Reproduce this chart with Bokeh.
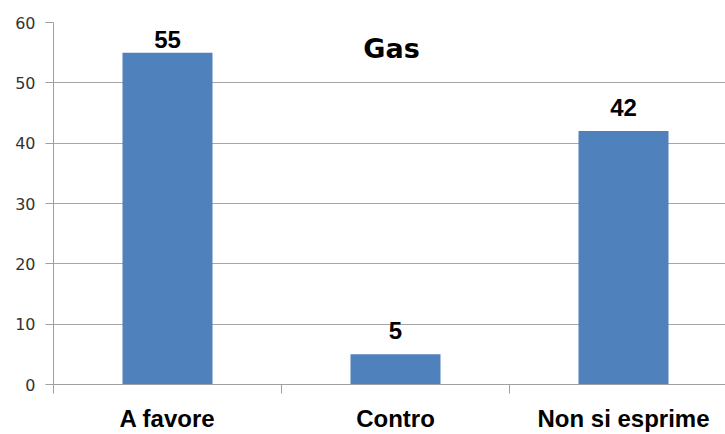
from bokeh.plotting import figure
from bokeh.models import Range1d, FixedTicker, Label, ColumnDataSource
from bokeh.core.properties import value
from bokeh.embed import file_html
from bokeh.resources import INLINE

categories = ["A favore", "Contro", "Non si esprime"]
values = [55, 5, 42]
y_ticks = [0, 10, 20, 30, 40, 50, 60]
title_text = "Gas"

xs = list(range(len(categories)))

W, H = 725, 434
BL, BT, BB, BR = 53, 22, 50, 0
frame_h = H - BT - BB
frame_w = W - BL - BR
step_px = 228.0
x_start = -0.5
x_end = x_start + frame_w / step_px
y_max = 60.0

p = figure(width=W, height=H, output_backend="svg", toolbar_location=None,
           x_range=Range1d(x_start, x_end), y_range=Range1d(0, y_max),
           min_border_left=BL, min_border_top=BT, min_border_bottom=BB, min_border_right=BR)
p.outline_line_color = None
p.background_fill_color = "white"

p.vbar(x=xs, top=values, width=90 / step_px, fill_color="#4F81BD", line_color=None)

# data labels above bars
px_per_unit = frame_h / y_max
offsets = []
for v in values:
    bar_top_px = (y_max - v) * px_per_unit
    label_bottom = max(25.0, bar_top_px - 15.0)
    offsets.append(label_bottom - bar_top_px)
src = ColumnDataSource(dict(x=xs, y=values, t=[str(v) for v in values], off=offsets))
p.text(x="x", y="y", text="t", y_offset="off", source=src,
       text_font=value("Liberation Sans"), text_font_style="bold",
       text_font_size="24px", text_color="black",
       text_align="center", text_baseline="bottom")

# title inside the plot
p.add_layout(Label(x=338, y=frame_h - 26, x_units="screen", y_units="screen",
                   text=title_text, text_font="DejaVu Sans", text_font_style="bold",
                   text_font_size="27px", text_color="black",
                   text_align="center", text_baseline="middle"))

# axes
xa = p.xaxis[0]
xa.ticker = FixedTicker(ticks=xs, minor_ticks=[x_start, 0.5, 1.5, 2.5])
xa.major_label_overrides = {i: c for i, c in enumerate(categories)}
xa.major_tick_out = 0
xa.major_tick_in = 0
xa.minor_tick_out = 9
xa.minor_tick_in = 0
xa.minor_tick_line_color = "#a0a0a0"
xa.axis_line_color = "#a0a0a0"
xa.major_label_text_font = "Liberation Sans"
xa.major_label_text_font_style = "bold"
xa.major_label_text_font_size = "24px"
xa.major_label_text_color = "black"
xa.major_label_standoff = 11

ya = p.yaxis[0]
ya.ticker = FixedTicker(ticks=y_ticks)
ya.major_tick_out = 8
ya.major_tick_in = 0
ya.minor_tick_line_color = None
ya.axis_line_color = "#a0a0a0"
ya.major_tick_line_color = "#a0a0a0"
ya.major_label_text_font = "DejaVu Sans"
ya.major_label_text_font_size = "16px"
ya.major_label_text_color = "#333333"
ya.major_label_standoff = 10

p.xgrid.grid_line_color = None
p.ygrid.grid_line_color = "#a6a6a6"
p.ygrid.ticker = FixedTicker(ticks=y_ticks)

open("out.html", "w").write(file_html(p, INLINE))
